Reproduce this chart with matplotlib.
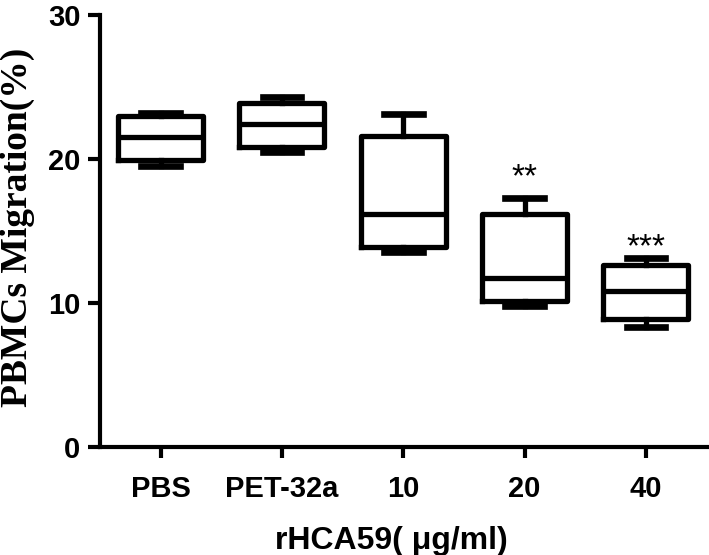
import matplotlib
matplotlib.use("Agg")
import matplotlib.pyplot as plt

# groups and box statistics (% migration)
groups = ["PBS", "PET-32a", "10", "20", "40"]
mins = [19.5, 20.5, 13.5, 9.8, 8.3]
q1 = [19.9, 20.8, 13.9, 10.1, 8.9]
medians = [21.5, 22.4, 16.2, 11.7, 10.8]
q3 = [23.0, 23.9, 21.6, 16.2, 12.6]
maxs = [23.2, 24.3, 23.1, 17.3, 13.1]
stars = ["", "", "", "**", "***"]
star_y = [0, 0, 0, 18.7, 13.8]

stats = []
for i in range(len(groups)):
    stats.append({"label": groups[i], "whislo": mins[i], "q1": q1[i],
                  "med": medians[i], "q3": q3[i], "whishi": maxs[i],
                  "fliers": []})

fig = plt.figure(figsize=(7.09, 5.55), dpi=100)
ax = fig.add_axes([0.141, 0.195, 0.859, 0.778])

lw = 3.8
ax.bxp(stats, positions=range(len(groups)), widths=0.7, capwidths=0.32,
       showfliers=False,
       boxprops=dict(color="black", linewidth=lw, solid_joinstyle="round"),
       medianprops=dict(color="black", linewidth=lw),
       whiskerprops=dict(color="black", linewidth=lw),
       capprops=dict(color="black", linewidth=lw + 1))

for i in range(len(groups)):
    if stars[i]:
        ax.text(i, star_y[i], stars[i], ha="center", va="center",
                fontsize=24, family="Liberation Sans")

ax.set_xlim(-0.5, 4.52)
ax.set_ylim(0, 30)
ax.set_yticks([0, 10, 20, 30])
ax.set_xticks(range(len(groups)))
ax.set_xticklabels(groups)

for s in ["top", "right"]:
    ax.spines[s].set_visible(False)
for s in ["left", "bottom"]:
    ax.spines[s].set_linewidth(3)
    ax.spines[s].set_capstyle("projecting")

ax.tick_params(axis="y", width=3, length=9, direction="out", pad=5)
ax.tick_params(axis="x", width=3, length=8, direction="out", pad=12)
for lab in ax.get_yticklabels():
    lab.set_family("Liberation Sans")
    lab.set_fontweight("bold")
    lab.set_fontsize(21)
for lab in ax.get_xticklabels():
    lab.set_family("Liberation Sans")
    lab.set_fontweight("bold")
    lab.set_fontsize(21)

ax.set_xlabel("rHCA59( μg/ml)", family="Liberation Sans", fontweight="bold",
              fontsize=23, va="center")
ax.xaxis.set_label_coords(0.478, -0.218)
ax.set_ylabel("PBMCs Migration(%)", family="Liberation Serif", fontweight="bold",
              fontsize=27, va="center")
ax.yaxis.set_label_coords(-0.135, 0.507)

fig.savefig("out.png", dpi=100)
